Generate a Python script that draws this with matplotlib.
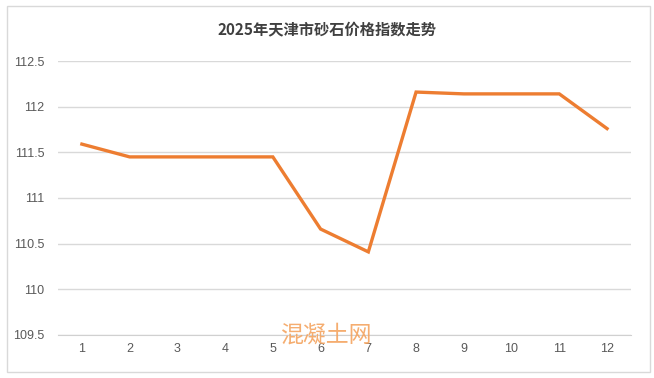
import matplotlib
matplotlib.use("Agg")
import matplotlib.pyplot as plt
from matplotlib.patches import Rectangle

plt.rcParams['font.family'] = ['Liberation Sans', 'Noto Sans CJK SC', 'DejaVu Sans']

# data
months = [1, 2, 3, 4, 5, 6, 7, 8, 9, 10, 11, 12]
index_values = [111.59, 111.45, 111.45, 111.45, 111.45, 110.66, 110.41, 112.16, 112.14, 112.14, 112.14, 111.76]
y_ticks = [109.5, 110, 110.5, 111, 111.5, 112, 112.5]
y_labels = ['109.5', '110', '110.5', '111', '111.5', '112', '112.5']

fig = plt.figure(figsize=(6.54, 3.78), dpi=100)
fig.patch.set_facecolor('white')

# outer frame
fig.patches.append(Rectangle((0.0107, 0.0159), 0.983, 0.968, transform=fig.transFigure,
                             fill=False, edgecolor='#d9d9d9', linewidth=1.0))

ax = fig.add_axes([0.0887, 0.1138, 0.876, 0.7248])
ax.plot(months, index_values, color='#ED7D31', linewidth=2.4, solid_joinstyle='miter')

ax.set_xlim(0.5, 12.5)
ax.set_ylim(109.5, 112.5)
ax.set_yticks(y_ticks)
ax.set_yticklabels(y_labels)
ax.set_xticks(months)
ax.grid(axis='y', color='#d9d9d9', linewidth=1.0)
ax.set_axisbelow(True)
for s in ['top', 'right', 'left']:
    ax.spines[s].set_visible(False)
ax.spines['bottom'].set_color('#d0d0d0')
ax.tick_params(length=0, labelsize=9, colors='#595959', pad=6)
ax.tick_params(axis='y', pad=10)

fig.text(0.5, 0.923, '2025年天津市砂石价格指数走势', ha='center', va='center',
         fontsize=11, fontweight='bold', color='#404040',
         family=['Noto Sans CJK SC', 'DejaVu Sans'])

# watermark
fig.text(0.5, 0.114, '混凝土网', ha='center', va='center', fontsize=16.5,
         color='#F4A460', alpha=0.9, family=['Noto Sans CJK SC', 'DejaVu Sans'])

fig.savefig('out.png', dpi=100)
